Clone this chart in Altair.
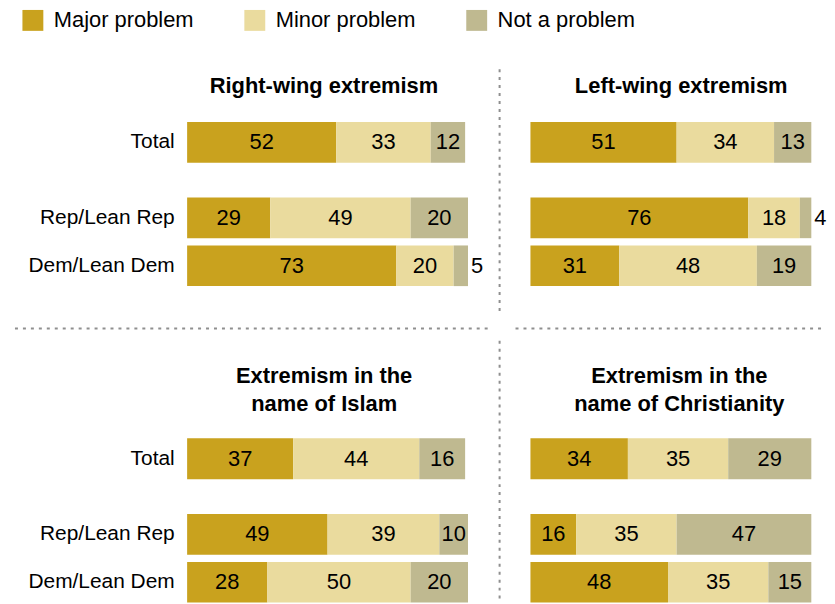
import altair as alt
import pandas as pd

FONT = "Liberation Sans"

categories = ["Major problem", "Minor problem", "Not a problem"]
colors = ["#C9A21E", "#EADB9E", "#BFB990"]
total_rows = ["Total"]
party_rows = ["Rep/Lean Rep", "Dem/Lean Dem"]

title_right = ["Right-wing extremism"]
title_left = ["Left-wing extremism"]
title_islam = ["Extremism in the", "name of Islam"]
title_christ = ["Extremism in the", "name of Christianity"]

right_total = [52, 33, 12]
right_rep = [29, 49, 20]
right_dem = [73, 20, 5]

left_total = [51, 34, 13]
left_rep = [76, 18, 4]
left_dem = [31, 48, 19]

islam_total = [37, 44, 16]
islam_rep = [49, 39, 10]
islam_dem = [28, 50, 20]

christ_total = [34, 35, 29]
christ_rep = [16, 35, 47]
christ_dem = [48, 35, 15]


def frame(groups, series):
    recs = []
    for g, vals in zip(groups, series):
        for i, (c, v) in enumerate(zip(categories, vals)):
            recs.append({"group": g, "category": c, "order": i, "value": v})
    return pd.DataFrame(recs)


one_row = alt.Data(values=[{"k": 0}])
RULE_STYLE = dict(strokeDash=[3, 5], color="#8f8f8f", strokeWidth=2)


def vrule(x, y, y2):
    return alt.Chart(one_row).mark_rule(**RULE_STYLE).encode(
        x=alt.value(x), y=alt.value(y), y2=alt.value(y2)
    )


def hrule(x, x2, y):
    return alt.Chart(one_row).mark_rule(**RULE_STYLE).encode(
        x=alt.value(x), x2=alt.value(x2), y=alt.value(y)
    )


XSCALE = alt.Scale(domain=[0, 100], nice=False, zero=True)


def block(groups, series, height, yscale, show_axis, legend=False,
          title=None, title_dx=0, title_offset=0, title_dy=0, extra=()):
    df = frame(groups, series)
    base = alt.Chart(df).transform_stack(
        stack="value", groupby=["group"], sort=[alt.SortField("order")],
        as_=["x0", "x1"]
    ).transform_calculate(mid="(datum.x0 + datum.x1) / 2")
    if show_axis:
        yenc = alt.Y("group:N", scale=yscale, axis=alt.Axis(title=None))
    else:
        yenc = alt.Y("group:N", scale=yscale, axis=None)
    if legend:
        cenc = alt.Color("category:N", scale=alt.Scale(domain=categories, range=colors),
                         legend=alt.Legend(title=None))
    else:
        cenc = alt.Color("category:N", scale=alt.Scale(domain=categories, range=colors),
                         legend=None)
    bars = base.mark_bar().encode(
        x=alt.X("x0:Q", scale=XSCALE, axis=None),
        x2="x1:Q",
        y=yenc,
        color=cenc,
    )
    inside = base.transform_filter("datum.value >= 6").mark_text(
        font=FONT, fontSize=22, color="black", baseline="middle"
    ).encode(
        x=alt.X("mid:Q", scale=XSCALE, axis=None),
        y=yenc,
        text="value:Q",
    )
    outside = base.transform_filter("datum.value < 6").mark_text(
        font=FONT, fontSize=22, color="black", baseline="middle", align="left", dx=3
    ).encode(
        x=alt.X("x1:Q", scale=XSCALE, axis=None),
        y=yenc,
        text="value:Q",
    )
    ch = alt.layer(bars, inside, outside, *extra).properties(width=288, height=height)
    if title is not None:
        ch = ch.properties(title=alt.TitleParams(
            text=title, anchor="middle", frame="group", dx=title_dx, dy=title_dy,
            offset=title_offset, fontSize=22, fontWeight="bold", font=FONT,
            color="black", lineHeight=28, baseline="bottom"
        ))
    return ch


# row heights (layout is a flat 2-column grid with flush bounds)
ROW1_H = 41    # top Total
ROW2_H = 89    # top partisan rows
ROW3_H = 159   # bottom Total (bar sits at the bottom of the band range)
ROW4_H = 89    # bottom partisan rows

sc_total_top = alt.Scale(domain=total_rows, paddingInner=0, paddingOuter=0)
sc_party = alt.Scale(domain=party_rows, paddingInner=0.152, paddingOuter=0)
sc_total_bottom = alt.Scale(domain=total_rows, paddingInner=0.305,
                            paddingOuter=1, align=1)

cells = [
    block(total_rows, [right_total], ROW1_H, sc_total_top, True, legend=True,
          title=title_right, title_dx=-6.5, title_offset=2.5),
    block(total_rows, [left_total], ROW1_H, sc_total_top, False,
          title=title_left, title_dx=7.5, title_offset=2.5),
    block(party_rows, [right_rep, right_dem], ROW2_H, sc_party, True),
    block(party_rows, [left_rep, left_dem], ROW2_H, sc_party, False,
          extra=[vrule(-31, -129, 117)]),
    block(total_rows, [islam_total], ROW3_H, sc_total_bottom, True,
          title=title_islam, title_dx=-6.3, title_offset=0, title_dy=117.5,
          extra=[hrule(-173, 302, 7.5)]),
    block(total_rows, [christ_total], ROW3_H, sc_total_bottom, False,
          title=title_christ, title_dx=5.6, title_offset=0, title_dy=117.5,
          extra=[hrule(-15, 293, 7.5), vrule(-31, 20, 284)]),
    block(party_rows, [islam_rep, islam_dem], ROW4_H, sc_party, True),
    block(party_rows, [christ_rep, christ_dem], ROW4_H, sc_party, False),
]

chart = alt.concat(*cells, columns=2, spacing={"row": 35, "column": 57},
                   bounds="flush").properties(
    padding={"left": 6, "top": 0, "right": 0, "bottom": 0}
).configure_view(stroke=None).configure_axis(
    labelFont=FONT, labelFontSize=21, labelColor="black", ticks=False,
    domain=False, labelPadding=13, grid=False
).configure_legend(
    orient="none", legendX=-166, legendY=-113, direction="horizontal",
    symbolType="square", symbolSize=441, symbolStrokeWidth=0, symbolOpacity=1,
    labelFont=FONT, labelFontSize=22, labelColor="black", labelOffset=10,
    columnPadding=50, padding=0
)

chart.save("out.html", embed_options={"renderer": "svg", "actions": False})
